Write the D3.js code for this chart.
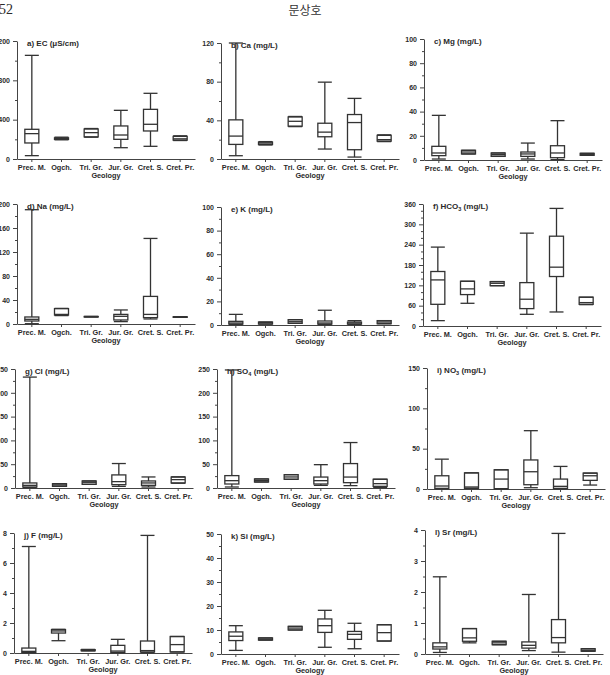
<!DOCTYPE html>
<html>
<head>
<meta charset="utf-8">
<title>Box plots by geology</title>
<script src="https://cdn.jsdelivr.net/npm/d3@7/dist/d3.min.js"></script>
<style>
body { margin: 0; background: #fff; }
svg text { font-family: "Liberation Sans", Arial, sans-serif; fill: #2a2a2a; }
.tick text { font-size: 7px; font-weight: bold; }
.box { fill: none; stroke: #333; stroke-width: 1.3; }
.domain, .tick line { stroke: #444; stroke-width: 1; }
</style>
</head>
<body>
<svg id="chart" width="610" height="675"></svg>
<script>
// geology groups on every x axis
var geology = ["Prec. M.", "Ogch.", "Tri. Gr.", "Jur. Gr.", "Cret. S.", "Cret. Pr."];

// [min, q1, median, q3, max] per geology group
var ecStats  = [[34,163,258,302,1054],[195,200,210,215,222],[222,225,268,305,310],[115,200,244,336,495],[129,285,353,505,668],[188,192,205,230,236]];
var caStats  = [[3.4,15.1,23.7,40.5,120],[14.5,15,16.5,17.5,18],[33.5,34,39,43.5,44],[10.3,23,27.8,37,79.5],[2,9.6,37.7,46,62.7],[18,18.5,20,24.5,25]];
var mgStats  = [[0.8,3.6,5.8,11.3,36.9],[5,5,6.6,8,8],[3,3,4.4,5.8,5.8],[0.8,3,5,6.6,14],[0.3,1.9,5.8,11.8,32.5],[3.9,3.9,4.7,5.5,5.5]];
var naStats  = [[0.5,5,7.8,11.7,190.5],[14,15,16,25.6,26],[11.8,12,12.3,12.5,12.7],[4,6.7,12.8,16,23.4],[8.4,10.6,16,46,142.6],[11.2,11.4,11.7,12,12.2]];
var kStats   = [[0.3,0.8,1.7,3.1,9],[0.8,0.8,2,2.5,2.5],[1.4,1.4,2.8,4.5,4.5],[0.3,0.8,1.7,3.4,12.5],[0.3,0.8,1.7,2.5,3.7],[1.1,1.1,2.5,3.7,3.7]];
var hco3Stats = [[15.8,64,136,160.8,232.8],[67,92.7,109.5,132,132],[119,119,126,131,131],[34.5,51.3,79,128,274],[41.4,146,173.6,265,347],[63,64,69,85,85]];
var clStats  = [[0.7,2.1,5.6,10.6,233],[3.5,3.5,6.3,9,9],[7.7,7.7,12,14.8,14.8],[3.5,7,13.4,27.5,51.4],[2.1,5.6,10.6,14.8,23.2],[10,10.6,17.6,23,23.5]];
var so4Stats = [[2.1,8.4,15.4,26,248],[12.6,12.6,15.4,19,19],[18.3,18.3,23.2,28,28],[5.6,8.4,15.4,23,49],[5,11.2,23,51.3,95.5],[1,3.5,9.1,18.3,18.5]];
var no3Stats = [[0.4,0.8,3.7,16.4,37],[0.8,0.8,2.5,20,20],[0.4,0.4,12.3,23.8,23.8],[1.6,5.3,21.4,36,72.3],[0.4,0.8,3.3,12.3,28],[4.9,10.7,16.4,19.7,19.7]];
var fStats   = [[0.02,0.04,0.11,0.33,7.1],[0.82,1.33,1.47,1.56,1.58],[0.14,0.15,0.18,0.22,0.24],[0.02,0.04,0.13,0.51,0.91],[0.02,0.07,0.16,0.8,7.84],[0.07,0.07,0.56,1.1,1.1]];
var siStats  = [[1.5,5.6,7.4,9.2,11.8],[5.8,5.8,6.2,6.7,6.7],[10,10,10.8,11.5,11.5],[2.8,9,11.8,14.6,18.2],[2.2,6.1,8.2,9.4,12.8],[5.4,5.4,8.9,12.2,12.2]];
var srStats  = [[0.05,0.16,0.23,0.36,2.49],[0.36,0.41,0.52,0.82,0.82],[0.3,0.3,0.36,0.41,0.41],[0.11,0.19,0.28,0.39,1.92],[0.06,0.36,0.53,1.11,3.89],[0.09,0.09,0.12,0.17,0.17]];

// y tick labels and minor steps
var ecTicks = [0, 400, 800, 1200];
var caTicks = [0, 40, 80, 120];
var mgTicks = [0, 20, 40, 60, 80, 100];
var naTicks = [0, 40, 80, 120, 160, 200];
var kTicks = [0, 20, 40, 60, 80, 100];
var hco3Ticks = [0, 60, 120, 180, 240, 300, 360];
var clTicks = [0, 50, 100, 150, 200, 250];
var so4Ticks = [0, 50, 100, 150, 200, 250];
var no3Ticks = [0, 50, 100, 150];
var fTicks = [0, 2, 4, 6, 8];
var siTicks = [0, 10, 20, 30, 40, 50];
var srTicks = [0, 1, 2, 3, 4];

// panel titles: [text, subscript, rest]
var panels = [
  {title: ["a) EC (\u03bcS/cm)", "", ""], stats: ecStats, ticks: ecTicks, minor: 200},
  {title: ["b) Ca (mg/L)", "", ""], stats: caStats, ticks: caTicks, minor: 20},
  {title: ["c) Mg (mg/L)", "", ""], stats: mgStats, ticks: mgTicks, minor: 10},
  {title: ["d) Na (mg/L)", "", ""], stats: naStats, ticks: naTicks, minor: 20},
  {title: ["e) K (mg/L)", "", ""], stats: kStats, ticks: kTicks, minor: 10},
  {title: ["f) HCO", "3", " (mg/L)"], stats: hco3Stats, ticks: hco3Ticks, minor: 20},
  {title: ["g) Cl (mg/L)", "", ""], stats: clStats, ticks: clTicks, minor: 25},
  {title: ["h) SO", "4", " (mg/L)"], stats: so4Stats, ticks: so4Ticks, minor: 25},
  {title: ["i) NO", "3", " (mg/L)"], stats: no3Stats, ticks: no3Ticks, minor: 25},
  {title: ["j) F (mg/L)", "", ""], stats: fStats, ticks: fTicks, minor: 1},
  {title: ["k) Si (mg/L)", "", ""], stats: siStats, ticks: siTicks, minor: 5},
  {title: ["l) Sr (mg/L)", "", ""], stats: srStats, ticks: srTicks, minor: 0.5}
];

// where each panel sits on the page: axis x, top of y range, zero line
var layout = [
  [17, 41, 159], [221, 43, 159], [424, 39, 160],
  [17, 204, 324], [221, 207, 325], [423, 204, 326],
  [15, 369, 488], [217, 369, 488], [427, 368, 489],
  [14, 533, 653], [221, 534, 654], [425, 530, 654]
];
var plotW = 178, boxW = 14;

var svg = d3.select("#chart");

// page header
svg.append("text").attr("x", 13).attr("y", 14).attr("text-anchor", "end")
  .style("font-family", "'Liberation Serif', serif").style("font-size", "14px").text("152");
svg.append("text").attr("x", 305).attr("y", 15).attr("text-anchor", "middle")
  .style("font-family", "'Noto Sans CJK KR', sans-serif").style("font-size", "12px").style("fill", "#333")
  .text("문상호");

panels.forEach(function(p, i) {
  var x0 = layout[i][0], top = layout[i][1], bottom = layout[i][2];
  var g = svg.append("g").attr("transform", "translate(" + x0 + ",0)");

  var x = d3.scaleBand().domain(geology).range([0, plotW]);
  var yMax = d3.max(p.ticks);
  var y = d3.scaleLinear().domain([0, yMax]).range([bottom, top]);

  // minor ticks first, then major with labels
  var minorVals = d3.range(0, yMax + p.minor / 2, p.minor).filter(function(v) {
    return p.ticks.indexOf(+v.toFixed(3)) < 0;
  });
  g.append("g").call(d3.axisLeft(y).tickValues(minorVals).tickSize(2).tickFormat(""))
    .call(function(a) { a.select(".domain").remove(); });
  g.append("g").call(d3.axisLeft(y).tickValues(p.ticks).tickFormat(d3.format("~g"))
    .tickSize(4).tickPadding(3).tickSizeOuter(0));

  g.append("g").attr("transform", "translate(0," + bottom + ")")
    .call(d3.axisBottom(x).tickSize(3).tickSizeOuter(0).tickPadding(3))
    .selectAll("text").style("font-size", "7.3px");

  g.append("text").attr("x", plotW / 2).attr("y", bottom + 19).attr("text-anchor", "middle")
    .style("font-size", "7.3px").style("font-weight", "bold").text("Geology");

  var t = g.append("text").attr("x", 10).attr("y", top + 5)
    .style("font-size", "8px").style("font-weight", "bold");
  t.append("tspan").text(p.title[0]);
  if (p.title[1]) {
    t.append("tspan").attr("dy", 2).style("font-size", "5.5px").text(p.title[1]);
    t.append("tspan").attr("dy", -2).text(p.title[2]);
  }

  // box plots
  var boxes = g.selectAll("g.bp").data(p.stats).enter().append("g").attr("class", "bp")
    .attr("transform", function(d, j) { return "translate(" + (x(geology[j]) + x.bandwidth() / 2) + ",0)"; });
  boxes.append("line").attr("class", "box").attr("x1", 0).attr("x2", 0)
    .attr("y1", function(d) { return y(d[0]); }).attr("y2", function(d) { return y(d[4]); });
  boxes.append("rect").attr("class", "box").style("fill", "#fff")
    .attr("x", -boxW / 2).attr("width", boxW)
    .attr("y", function(d) { return y(d[3]); })
    .attr("height", function(d) { return Math.max(0.5, y(d[1]) - y(d[3])); });
  [0, 2, 4].forEach(function(k) {
    boxes.append("line").attr("class", "box")
      .attr("x1", -boxW / 2).attr("x2", boxW / 2)
      .attr("y1", function(d) { return y(d[k]); }).attr("y2", function(d) { return y(d[k]); });
  });
});
</script>
</body>
</html>
